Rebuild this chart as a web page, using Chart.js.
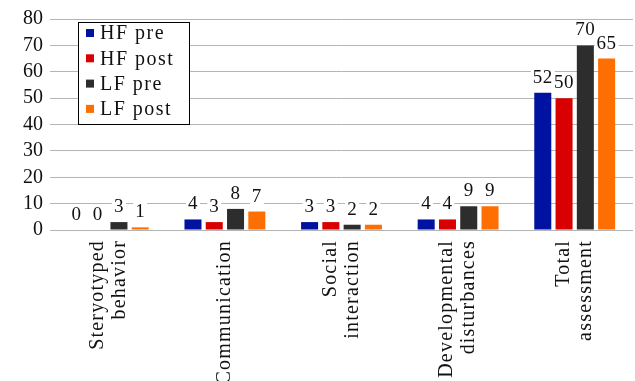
<!DOCTYPE html>
<html>
<head>
<meta charset="utf-8">
<script src="https://cdn.jsdelivr.net/npm/chart.js@4.4.1/dist/chart.umd.min.js"></script>
<style>
    html, body { margin: 0; padding: 0; background: #fff; }
    canvas { display: block; }
</style>
</head>
<body>
<canvas id="scoreChart" width="635" height="381"></canvas>
<script>
// Chart data
const categories = [
    ['Steryotyped', 'behavior'],
    ['Communication'],
    ['Social', 'interaction'],
    ['Developmental', 'disturbances'],
    ['Total', 'assessment']
];
const seriesNames = ['HF pre', 'HF post', 'LF pre', 'LF post'];
const hfPre = [0, 4, 3, 4, 52];
const hfPost = [0, 3, 3, 4, 50];
const lfPre = [3, 8, 2, 9, 70];
const lfPost = [1, 7, 2, 9, 65];
const yMin = 0;
const yMax = 80;
const yStep = 10;

const seriesColors = ['#0012a0', '#d80000', '#2d2d2d', '#ff6e00'];
const serif = '"Liberation Serif", "DejaVu Serif", serif';

// Value labels above every bar, on a white patch like the original
const valueLabels = {
    id: 'valueLabels',
    afterDatasetsDraw(chart) {
        const ctx = chart.ctx;
        ctx.save();
        ctx.font = '19px ' + serif;
        ctx.letterSpacing = '0.5px';
        ctx.textAlign = 'center';
        ctx.textBaseline = 'alphabetic';
        chart.data.datasets.forEach((ds, i) => {
            chart.getDatasetMeta(i).data.forEach((bar, j) => {
                const txt = String(ds.data[j]);
                const w = ctx.measureText(txt).width;
                const base = bar.y - 10;
                ctx.fillStyle = '#fff';
                ctx.fillRect(bar.x - w / 2 - 2, base - 15, w + 4, 18);
                ctx.fillStyle = '#111';
                ctx.fillText(txt, bar.x, base);
            });
        });
        ctx.restore();
    }
};

// Rotated multi-line category labels under each group
const rotatedLabels = {
    id: 'rotatedLabels',
    afterDraw(chart) {
        const ctx = chart.ctx;
        const xs = chart.scales.x;
        const top = chart.chartArea.bottom + 10;
        const lineHeight = 22;
        ctx.save();
        ctx.font = '20px ' + serif;
        ctx.letterSpacing = '1.2px';
        ctx.fillStyle = '#111';
        ctx.textAlign = 'right';
        ctx.textBaseline = 'middle';
        categories.forEach((lines, i) => {
            const px = xs.getPixelForTick(i);
            ctx.save();
            ctx.translate(px, top);
            ctx.rotate(-Math.PI / 2);
            lines.forEach((ln, k) => {
                ctx.fillText(ln, 0, (k - (lines.length - 1) / 2) * lineHeight);
            });
            ctx.restore();
        });
        ctx.restore();
    }
};

// Boxed legend in the upper left of the plot
const boxLegend = {
    id: 'boxLegend',
    afterDraw(chart) {
        const ctx = chart.ctx;
        const x = 78.5, y = 22.5, w = 111, h = 102;
        ctx.save();
        ctx.fillStyle = '#fff';
        ctx.fillRect(x, y, w, h);
        ctx.strokeStyle = '#000';
        ctx.lineWidth = 1;
        ctx.strokeRect(x, y, w, h);
        ctx.font = '20px ' + serif;
        ctx.letterSpacing = '1.5px';
        ctx.textAlign = 'left';
        ctx.textBaseline = 'middle';
        chart.data.datasets.forEach((ds, i) => {
            const cy = 33 + i * 25.3;
            ctx.fillStyle = ds.backgroundColor;
            ctx.fillRect(86, cy - 4, 8, 8);
            ctx.fillStyle = '#111';
            ctx.fillText(ds.label, 100, cy + 1);
        });
        ctx.restore();
    }
};

const ctx = document.getElementById('scoreChart').getContext('2d');
const seriesData = [hfPre, hfPost, lfPre, lfPost];

new Chart(ctx, {
    type: 'bar',
    data: {
        labels: categories.map(c => c.join(' ')),
        datasets: seriesNames.map((name, i) => ({
            label: name,
            data: seriesData[i],
            backgroundColor: seriesColors[i],
            borderWidth: 0,
            categoryPercentage: 0.73,
            barPercentage: 0.8
        }))
    },
    options: {
        responsive: false,
        animation: false,
        layout: {
            padding: { top: 16, right: 2, left: 0, bottom: 0 }
        },
        plugins: {
            legend: { display: false },
            tooltip: { enabled: false }
        },
        scales: {
            x: {
                grid: { display: false },
                border: { display: false },
                ticks: { display: false },
                afterFit: s => { s.height = 151; }
            },
            y: {
                min: yMin,
                max: yMax,
                ticks: {
                    stepSize: yStep,
                    autoSkip: false,
                    color: '#111',
                    padding: 7,
                    font: { family: serif, size: 20 }
                },
                grid: {
                    color: '#b4b4b4',
                    drawTicks: false
                },
                border: { display: false },
                afterFit: s => { s.width = 50; }
            }
        }
    },
    plugins: [valueLabels, rotatedLabels, boxLegend]
});
</script>
</body>
</html>
